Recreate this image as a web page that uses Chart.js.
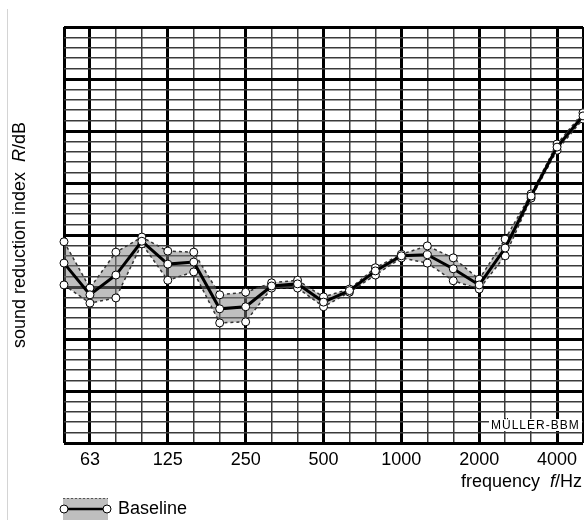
<!DOCTYPE html>
<html>
<head>
<meta charset="utf-8">
<script src="https://cdn.jsdelivr.net/npm/chart.js@4.4.0/dist/chart.umd.min.js"></script>
<style>
    html, body { margin: 0; padding: 0; background: #fff; }
    #wrap { width: 584px; height: 520px; }
</style>
</head>
<body>
<div id="wrap"><canvas id="chart" width="584" height="520"></canvas></div>
<script>
// third-octave bands, 50 Hz .. 5000 Hz
const bands = ['50', '63', '80', '100', '125', '160', '200', '250', '315', '400', '500',
               '630', '800', '1000', '1250', '1600', '2000', '2500', '3150', '4000', '5000'];
const octaveLabels = ['63', '125', '250', '500', '1000', '2000', '4000'];

// sound reduction index R in dB
const meanR  = [34.6, 28.5, 32.3, 38.8, 34.4, 34.8, 25.8, 26.2, 30.2, 30.6, 27.1,
                29.3, 33.1, 36.0, 36.2, 33.5, 30.4, 37.5, 47.5, 56.9, 62.9];
const upperR = [38.7, 29.8, 36.7, 39.6, 36.9, 36.7, 28.5, 29.0, 30.8, 31.3, 28.1,
                29.6, 33.7, 36.3, 37.9, 35.6, 31.5, 39.2, 47.9, 57.5, 63.5];
const lowerR = [30.4, 26.9, 27.9, 38.3, 31.3, 32.9, 23.1, 23.3, 29.8, 29.8, 26.2,
                29.0, 32.3, 35.6, 34.6, 31.2, 29.6, 36.0, 47.1, 56.3, 62.3];

const yMin = 0;
const yMax = 80;
const FONT = '"Liberation Sans", Arial, sans-serif';
const bandFill = 'rgba(128, 128, 128, 0.5)';

// writes a string made of normal and italic pieces
function drawMixed(ctx, parts, x, y, align) {
    const widths = parts.map(([text, italic]) => {
        ctx.font = (italic ? 'italic ' : '') + '18px ' + FONT;
        return ctx.measureText(text).width;
    });
    const total = widths.reduce((a, b) => a + b, 0);
    let cx = align === 'right' ? x - total : align === 'center' ? x - total / 2 : x;
    ctx.textAlign = 'left';
    parts.forEach(([text, italic], i) => {
        ctx.font = (italic ? 'italic ' : '') + '18px ' + FONT;
        ctx.fillText(text, cx, y);
        cx += widths[i];
    });
}

function circle(ctx, x, y) {
    ctx.beginPath();
    ctx.arc(x, y, 4, 0, Math.PI * 2);
    ctx.fillStyle = '#fff';
    ctx.fill();
    ctx.lineWidth = 1;
    ctx.strokeStyle = '#000';
    ctx.stroke();
}

const decorations = {
    id: 'decorations',
    afterDraw(chart) {
        const ctx = chart.ctx;
        const area = chart.chartArea;
        ctx.save();

        // faint frame line on the far left
        ctx.strokeStyle = '#d4d4d4';
        ctx.lineWidth = 1;
        ctx.beginPath();
        ctx.moveTo(7.5, 9);
        ctx.lineTo(7.5, 520);
        ctx.stroke();

        ctx.fillStyle = '#000';
        ctx.textBaseline = 'middle';

        // y axis title
        ctx.save();
        ctx.translate(20, (area.top + area.bottom) / 2);
        ctx.rotate(-Math.PI / 2);
        drawMixed(ctx, [['sound reduction index  ', false], ['R', true], ['/dB', false]], 0, 0, 'center');
        ctx.restore();

        // x axis title
        ctx.fillStyle = '#000';
        ctx.textBaseline = 'alphabetic';
        drawMixed(ctx, [['frequency  ', false], ['f', true], ['/Hz', false]], 582, 487, 'right');

        // stamp in the bottom right corner
        ctx.fillStyle = '#fff';
        ctx.fillRect(489, 419, 93, 12);
        ctx.fillStyle = '#000';
        ctx.font = '12px ' + FONT;
        ctx.letterSpacing = '1px';
        ctx.textAlign = 'left';
        ctx.textBaseline = 'middle';
        ctx.fillText('MÜLLER-BBM', 491, 426);
        ctx.letterSpacing = '0px';

        // legend
        ctx.fillStyle = bandFill;
        ctx.fillRect(63, 498, 45, 22);
        ctx.setLineDash([2, 2]);
        ctx.strokeStyle = '#555';
        ctx.lineWidth = 1;
        ctx.beginPath();
        ctx.moveTo(63, 498.5);
        ctx.lineTo(108, 498.5);
        ctx.stroke();
        ctx.setLineDash([]);
        ctx.strokeStyle = '#000';
        ctx.lineWidth = 2.5;
        ctx.beginPath();
        ctx.moveTo(63, 509);
        ctx.lineTo(108, 509);
        ctx.stroke();
        circle(ctx, 64, 509);
        circle(ctx, 107, 509);
        ctx.fillStyle = '#000';
        ctx.font = '18px ' + FONT;
        ctx.textAlign = 'left';
        ctx.textBaseline = 'middle';
        ctx.fillText('Baseline', 118, 509);

        ctx.restore();
    }
};

const pointStyle = {
    pointRadius: 4,
    pointHoverRadius: 4,
    pointBackgroundColor: '#fff',
    pointBorderColor: '#000',
    pointBorderWidth: 1
};

new Chart(document.getElementById('chart'), {
    type: 'line',
    data: {
        labels: bands,
        datasets: [
            {
                label: 'Baseline',
                data: meanR,
                borderColor: '#000',
                borderWidth: 3,
                fill: false,
                tension: 0,
                order: 0,
                ...pointStyle
            },
            {
                label: 'upper',
                data: upperR,
                borderColor: '#333',
                borderWidth: 1.5,
                borderDash: [3, 3],
                fill: false,
                tension: 0,
                order: 1,
                ...pointStyle
            },
            {
                label: 'lower',
                data: lowerR,
                borderColor: '#333',
                borderWidth: 1.5,
                borderDash: [3, 3],
                backgroundColor: bandFill,
                fill: '-1',
                tension: 0,
                order: 2,
                ...pointStyle
            }
        ]
    },
    options: {
        responsive: false,
        animation: false,
        devicePixelRatio: 1,
        layout: {
            autoPadding: false,
            padding: { left: 64, top: 27, right: 1, bottom: 47 }
        },
        plugins: {
            legend: { display: false },
            tooltip: { enabled: false }
        },
        scales: {
            x: {
                type: 'category',
                offset: false,
                afterFit: (scale) => {
                    scale.height = 30;
                    scale.paddingLeft = 0;
                    scale.paddingRight = 0;
                },
                border: { display: false },
                grid: {
                    offset: false,
                    drawTicks: false,
                    color: (c) => (c.index % 3 === 1 || c.index === 0 || c.index === 20) ? '#000' : '#3a3a3a',
                    lineWidth: (c) => (c.index % 3 === 1 || c.index === 0 || c.index === 20) ? 3 : 1.5
                },
                ticks: {
                    autoSkip: false,
                    maxRotation: 0,
                    padding: 6,
                    color: '#000',
                    font: { family: FONT, size: 18 },
                    callback: (value, index) => octaveLabels.includes(bands[index]) ? bands[index] : ''
                }
            },
            y: {
                min: yMin,
                max: yMax,
                afterFit: (scale) => { scale.width = 0; },
                border: { display: false },
                grid: {
                    drawTicks: false,
                    color: (c) => c.tick.value % 10 === 0 ? '#000' : '#3a3a3a',
                    lineWidth: (c) => c.tick.value % 10 === 0 ? 3 : 1.5
                },
                ticks: { display: false, stepSize: 2 }
            }
        }
    },
    plugins: [decorations]
});
</script>
</body>
</html>
